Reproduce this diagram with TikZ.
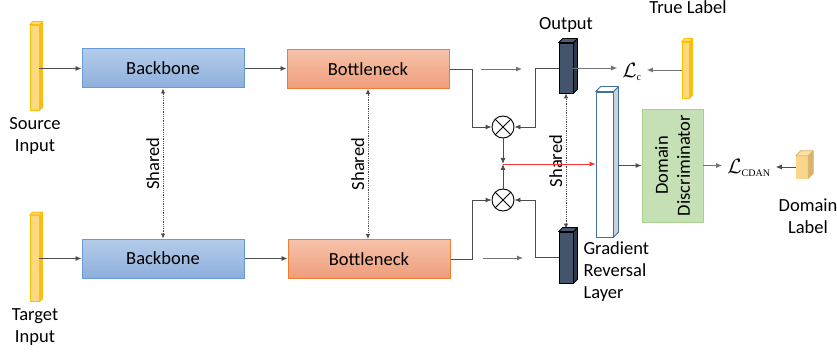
\documentclass[tikz,border=0pt]{standalone}
\usepackage[no-math]{fontspec}
\setmainfont{Carlito}
\newfontfamily\subfont{Liberation Serif}
\usepackage{xcolor}
\usepackage{tikz}
\usetikzlibrary{arrows.meta,positioning}

\definecolor{bbtop}{HTML}{B4CCEA}
\definecolor{bbbot}{HTML}{8DAFDC}
\definecolor{bbline}{HTML}{6A9AD3}
\definecolor{bntop}{HTML}{F6C2AA}
\definecolor{bnbot}{HTML}{EE9D7A}
\definecolor{bnline}{HTML}{ED7D31}
\definecolor{infront}{HTML}{FFD97F}
\definecolor{inside}{HTML}{F3BC2E}
\definecolor{inline}{HTML}{FFBF00}
\definecolor{darkfront}{HTML}{44546A}
\definecolor{darkside}{HTML}{2E3A4A}
\definecolor{darktop}{HTML}{4C5D75}
\definecolor{grlside}{HTML}{C8D1DD}
\definecolor{grlline}{HTML}{41719C}
\definecolor{ddfill}{HTML}{C5E0B4}
\definecolor{ddline}{HTML}{A9D18E}
\definecolor{cubefront}{HTML}{FAD68C}
\definecolor{cubeside}{HTML}{D9B56C}
\definecolor{cubetop}{HTML}{FCE0A6}

% side and top faces of a box-shaped node
\newcommand\prismfaces[5]{%
  \filldraw[fill=#3, draw=#5, line width=0.8pt, line join=round]
    (#1.north east) -- ++(#2,-#2) -- ([shift={(#2,-#2)}]#1.south east) -- (#1.south east) -- cycle;
  \filldraw[fill=#4, draw=#5, line width=0.8pt, line join=round]
    (#1.north west) -- ++(#2,-#2) -- ([shift={(#2,-#2)}]#1.north east) -- (#1.north east) -- cycle;}
% small serif subscript of a loss
\newcommand\losssub[1]{\hbox{\subfont\fontsize{10}{10}\selectfont #1}}

\begin{document}
\begin{tikzpicture}[
    x=1pt, y=-1pt,
    font=\fontsize{18.5}{22}\selectfont,
    arr/.style={draw=black!70, line width=0.9pt, -{Latex[length=6pt,width=5pt]}},
    shared/.style={draw=black!70, densely dotted, line width=0.8pt,
      {Latex[length=5pt,width=4.5pt]}-{Latex[length=5pt,width=4.5pt]}},
    block/.style={draw, line width=1pt, minimum width=162pt, minimum height=39pt, inner sep=0pt},
    backbone/.style={block, draw=bbline, top color=bbtop, bottom color=bbbot},
    neck/.style={block, draw=bnline, top color=bntop, bottom color=bnbot},
    inbar/.style={draw=inline, fill=infront, line width=0.8pt, inner sep=0pt},
    darkbox/.style={draw=black, fill=darkfront, line width=0.8pt, inner sep=0pt,
      minimum width=14pt, minimum height=50pt},
    mult/.style={circle, draw, line width=0.9pt, minimum size=22pt, inner sep=0pt,
      path picture={\draw[line width=0.9pt] (path picture bounding box.north west) -- (path picture bounding box.south east)
        (path picture bounding box.north east) -- (path picture bounding box.south west);}},
    loss/.style={inner sep=5pt, font=\fontsize{21}{25}\selectfont}
]
    \useasboundingbox (0,0) rectangle (837,358);

    % inputs
    \node[inbar, minimum width=9pt, minimum height=85pt] (src) at (34.5,67.5) {};
    \node[inbar, minimum width=9pt, minimum height=86pt] (tgt) at (34.5,258.5) {};
    \prismfaces{src}{3}{inside}{infront}{inline}
    \prismfaces{tgt}{3}{inside}{infront}{inline}
    \node[align=center] (srclbl) at (35,136) {Source\\Input};
    \node[align=center] (tgtlbl) at (35,327) {Target\\Input};

    % feature extractors
    \node[backbone] (bb1) at (163,68.5) {Backbone};
    \node[backbone] (bb2) at (163,258.5) {Backbone};
    \node[neck] (bn1) at (368,69) {Bottleneck};
    \node[neck] (bn2) at (369,259) {Bottleneck};

    \draw[arr] (src.east |- bb1.west) -- (bb1.west);
    \draw[arr] (tgt.east |- bb2.west) -- (bb2.west);
    \draw[arr] (bb1.east) -- (bn1.west |- bb1.east);
    \draw[arr] (bb2.east) -- (bn2.west |- bb2.east);
    \draw[shared] (bb2.north) -- node[above, sloped] {Shared} (bb1.south);
    \draw[shared] (bn2.north -| bn1.south) -- node[above, sloped] {Shared} (bn1.south);

    % classifier outputs and multilinear map
    \node[darkbox] (out) at (566,68) {};
    \node[darkbox, minimum height=51pt] (rev) at (566,257.5) {};
    \prismfaces{out}{4}{darkside}{darktop}{black}
    \prismfaces{rev}{4}{darkside}{darktop}{black}
    \node (outlbl) at (566,25) {Output};
    \node[anchor=west, align=left] (revlbl) at (580,272) {Gradient\\Reversal\\Layer};

    \node[mult] (ot1) at (503,127) {};
    \node[mult] (ot2) at (503,200) {};
    \coordinate (jn) at (503,164);
    \coordinate (f1s) at (481,69);
    \coordinate (f1e) at (522,69);
    \coordinate (f2s) at (483,258);
    \coordinate (f2e) at (523,258);

    \draw[arr] (bn1.east) -- ++(23,0) |- (ot1.west);
    \draw[arr] (bn2.east) -- ++(22,0) |- (ot2.west);
    \draw[arr] (out.west) -- ++(-23,0) |- (ot1.east);
    \draw[arr] (rev.west) -- ++(-23,0) |- (ot2.east);
    \draw[arr, draw=black!55] (f1s) -- (f1e);
    \draw[arr, draw=black!55] (f2s) -- (f2e);
    \draw[arr] (ot1.south) -- (jn);
    \draw[arr] (ot2.north) -- (jn);
    \draw[shared] ([yshift=3pt]rev.north) -- node[above, sloped] {Shared} (out.south);

    % gradient reversal layer and domain discriminator
    \node[draw=grlline, fill=white, line width=0.8pt, inner sep=0pt,
      minimum width=17pt, minimum height=145pt] (grl) at (604.5,164.5) {};
    \prismfaces{grl}{5}{grlside}{white}{grlline}
    \draw[arr, draw=red!80, line width=0.7pt] (jn) -- (jn -| grl.west);

    \node[draw=ddline, fill=ddfill, line width=0.8pt, rotate=90, align=center,
      minimum width=113pt, minimum height=61pt] (dd) at (672.5,165.5) {Domain\\Discriminator};
    \draw[arr] ([xshift=5pt]grl.east |- dd.north) -- (dd.north);

    % losses and labels
    \node[loss] (lc) at (632,72) {$\mathcal{L}_{\losssub{c}}$};
    \node[loss] (lcdan) at (749,168) {$\mathcal{L}_{\losssub{CDAN}}$};

    \node[inbar, minimum width=7pt, minimum height=56pt] (tl) at (685.5,70) {};
    \prismfaces{tl}{3}{inside}{infront}{inline}
    \node (tllbl) at (688,7) {True Label};

    \node[draw=cubefront, fill=cubefront, line width=0.5pt, inner sep=0pt,
      minimum width=12pt, minimum height=22pt] (dl) at (802,167) {};
    \prismfaces{dl}{5}{cubeside}{cubetop}{cubeside}
    \node[align=center] (dllbl) at (808,216) {Domain\\Label};

    \draw[arr, draw=black!55] (out.east) -- (out.east -| lc.west);
    \draw[arr, draw=black!55] (tl.west) -- (tl.west -| lc.east);
    \draw[arr, draw=black!55] (dd.south) -- (dd.south -| lcdan.west);
    \draw[arr] (dl.west) -- (dl.west -| lcdan.east);
\end{tikzpicture}
\end{document}
